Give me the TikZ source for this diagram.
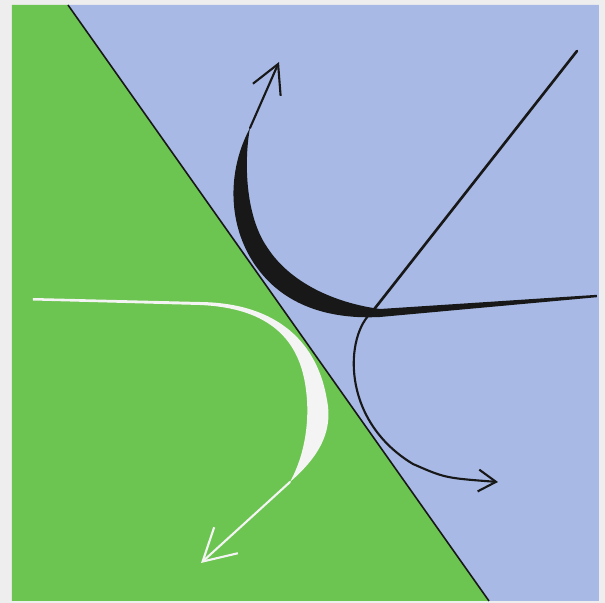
\documentclass[tikz,border=0pt]{standalone}
\usepackage{xcolor}
\usepackage{tikz}
\usetikzlibrary{arrows.meta}

\definecolor{fieldgreen}{RGB}{108,197,80}
\definecolor{fieldblue}{RGB}{167,185,228}
\definecolor{paper}{RGB}{238,238,238}
\definecolor{ink}{RGB}{24,24,24}
\definecolor{chalk}{RGB}{244,244,244}

\tikzset{
  boundary/.style={draw=ink, line width=0.45pt},
  inkray/.style={draw=ink, line width=0.6pt, line cap=round},
  chalkray/.style={draw=chalk, line width=0.6pt, line cap=round},
  bigbarb/.style={-{Straight Barb[length=8pt, width=8.6pt]}},
  smallbarb/.style={-{Straight Barb[length=5pt, width=6.2pt]}},
  widebarb/.style={-{Straight Barb[length=9pt, width=10pt]}}
}

\begin{document}
\begin{tikzpicture}[x=0.01cm, y=-0.01cm]
  \fill[paper] (0,0) rectangle (605,603);
  \useasboundingbox (0,0) rectangle (605,603);

  % the two media and their boundary
  \coordinate (topcut) at (68,5);
  \coordinate (botcut) at (489,601);
  \fill[fieldgreen] (12,5) -- (topcut) -- (botcut) -- (12,601) -- cycle;
  \fill[fieldblue] (topcut) -- (599,5) -- (599,601) -- (botcut) -- cycle;
  \draw[boundary] (topcut) -- (botcut);

  % incoming ray and the point where it meets the curves
  \coordinate (source) at (577,51);
  \coordinate (hit) at (372,312);
  \draw[inkray, line width=0.75pt] (source) -- (hit);

  % black crescent, reflected upwards
  \coordinate (inktip) at (250,128);
  \fill[ink] (inktip) .. controls (230,165) and (226,215) .. (250,257)
    .. controls (275,300) and (320,320) .. (380,317)
    -- (380,309) .. controls (335,303) and (290,283) .. (267,247)
    .. controls (245,215) and (244,160) .. (inktip) -- cycle;
  \fill[ink] (597,294.8) -- (597,297.2) -- (380,317) -- (380,309) -- cycle;
  \draw[inkray, bigbarb] (inktip) -- (279,62);

  % thin black ray, bent downwards
  \draw[inkray, smallbarb] (hit) .. controls (345,335) and (340,420) .. (413,464)
    .. controls (445,478) .. (498,482);

  % white crescent in the green medium
  \coordinate (chalkstart) at (33,298);
  \coordinate (chalkfoot) at (200,302);
  \coordinate (chalktip) at (290,482);
  \fill[chalk] (chalkstart) -- (chalkfoot) -- (200,305) -- (33,300.5) -- cycle;
  \fill[chalk] (chalkfoot) .. controls (280,303) and (318,345) .. (327,400)
    .. controls (334,435) and (315,460) .. (chalktip)
    .. controls (305,455) and (310,420) .. (306,390)
    .. controls (300,340) and (270,308) .. (200,305) -- cycle;
  \draw[chalkray, widebarb] (chalktip) -- (201,563);
\end{tikzpicture}
\end{document}
